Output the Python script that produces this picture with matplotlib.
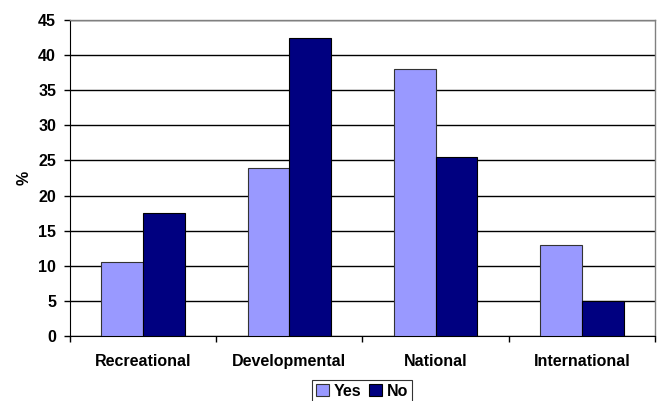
import numpy as np
import matplotlib.pyplot as plt

# Data
categories = ["Recreational", "Developmental", "National", "International"]
yes_values = [10.5, 24.0, 38.0, 13.0]
no_values = [17.5, 42.5, 25.5, 5.0]
y_ticks = [0, 5, 10, 15, 20, 25, 30, 35, 40, 45]

plt.rcParams["font.family"] = ["Liberation Sans", "DejaVu Sans"]
plt.rcParams["font.weight"] = "bold"
fs = 11.5

fig = plt.figure(figsize=(6.57, 4.01), dpi=100)
ax = fig.add_axes([0.1065, 0.162, 0.8905, 0.788])

x = np.arange(len(categories))
bar_w = 1 / 3.5  # Excel gap width 150%

ax.bar(x - bar_w / 2, yes_values, bar_w, color="#9999FF", edgecolor="#333333",
       linewidth=0.8, label="Yes", zorder=3)
ax.bar(x + bar_w / 2, no_values, bar_w, color="#000080", edgecolor="black",
       linewidth=0.8, label="No", zorder=3)

ax.set_xlim(-0.5, len(categories) - 0.5)
ax.set_ylim(0, 45)
ax.set_yticks(y_ticks)
ax.set_yticklabels([str(v) for v in y_ticks], fontsize=fs, fontweight="bold")

# category labels between boundary ticks
ax.set_xticks(np.arange(len(categories) + 1) - 0.5)
ax.set_xticklabels([])
ax.set_xticks(x, minor=True)
ax.set_xticklabels(categories, minor=True, fontsize=fs, fontweight="bold")
ax.tick_params(axis="x", which="minor", length=0, pad=13)
ax.tick_params(axis="x", which="major", length=4, width=1, direction="out")
ax.tick_params(axis="y", length=4, width=1, direction="out", pad=6)

ax.yaxis.grid(True, color="black", linewidth=1, zorder=0)
ax.set_axisbelow(True)

for side in ["top", "right"]:
    ax.spines[side].set_color("#808080")
    ax.spines[side].set_linewidth(1)
ax.spines["left"].set_color("black")
ax.spines["bottom"].set_color("black")

ax.set_ylabel("%", fontsize=fs, fontweight="bold", labelpad=5)

leg = fig.legend(loc="center", bbox_to_anchor=(0.551, 0.024), ncol=2,
                 frameon=True, fancybox=False, edgecolor="black",
                 prop={"size": fs, "weight": "bold"},
                 handlelength=0.8, handleheight=0.8, handletextpad=0.3,
                 columnspacing=0.5, borderpad=0.25, borderaxespad=0)
leg.get_frame().set_linewidth(0.8)

fig.savefig("out.png", dpi=100)
